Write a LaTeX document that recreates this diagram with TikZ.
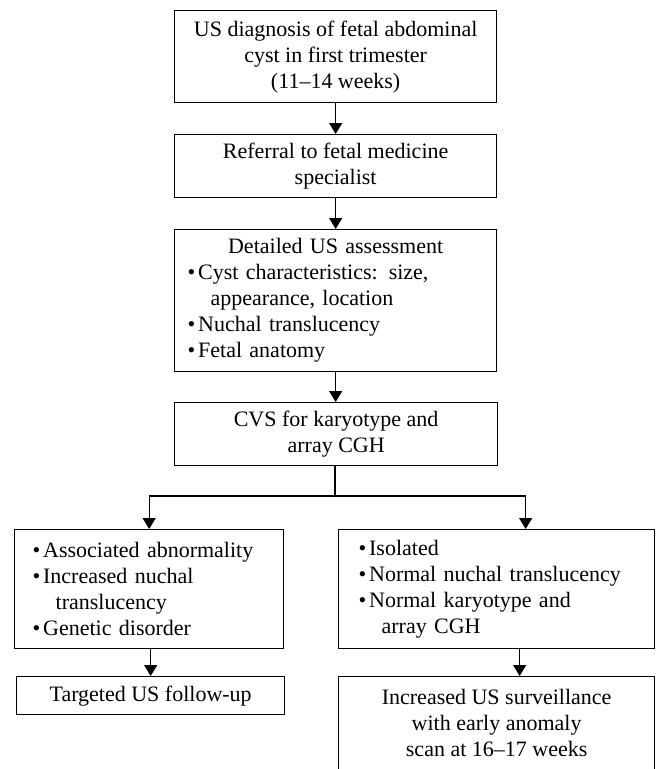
\documentclass[tikz,border=0pt]{standalone}
\usepackage{fontspec}
\setmainfont{Liberation Serif}
\usetikzlibrary{arrows.meta}
\newcommand{\bitem}{\makebox[10.5pt][l]{\textbullet}}
\newcommand{\bcont}{\hspace*{23pt}}
\begin{document}
\begin{tikzpicture}[x=1pt, y=-1pt,
    box/.style={draw, line width=1.3pt, inner sep=0pt, anchor=north west, align=center,
      font=\fontsize{22}{26}\selectfont},
    arr/.style={line width=1.3pt, -{Triangle[length=11pt, width=13pt]}}]
    \useasboundingbox (0,0) rectangle (656,769);
    \clip (0,0) rectangle (656,769);

    % Main column
    \node[box, minimum width=322pt, minimum height=92pt] (diag) at (174,10)
      {US diagnosis of fetal abdominal\\ cyst in first trimester\\ (11--14 weeks)};
    \node[box, minimum width=322pt, minimum height=63pt] (refer) at (174,134)
      {Referral to fetal medicine\\ specialist};
    \node[box, minimum width=322pt, minimum height=142pt, text width=296pt, align=left] (assess) at (174,229)
      {\makebox[296pt]{Detailed US assessment}\\
       \bitem Cyst characteristics: size,\\
       \bcont appearance, location\\
       \bitem Nuchal translucency\\
       \bitem Fetal anatomy};
    \node[box, minimum width=323pt, minimum height=63pt] (cvs) at (174,402)
      {CVS for karyotype and\\ array CGH};

    % Two outcomes
    \node[box, minimum width=269pt, minimum height=119pt, text width=233pt, align=left] (abnormal) at (14,529)
      {\bitem Associated abnormality\\
       \bitem Increased nuchal\\
       \bcont translucency\\
       \bitem Genetic disorder};
    \node[box, minimum width=316pt, minimum height=119pt, text width=276pt, align=left] (isolated) at (338,529)
      {\bitem Isolated\\
       \bitem Normal nuchal translucency\\
       \bitem Normal karyotype and\\
       \bcont array CGH};

    % Follow-up
    \node[box, minimum width=268pt, minimum height=38pt] (targeted) at (16,676)
      {Targeted US follow-up};
    \node[box, minimum width=316pt, inner ysep=13pt, text depth=20pt] (surveil) at (338,676)
      {Increased US surveillance\\ with early anomaly\\ scan at 16--17 weeks};

    % Arrows
    \draw[arr] (diag) -- (refer);
    \draw[arr] (refer) -- (assess);
    \draw[arr] (assess.south) -- (assess.south |- cvs.north);
    \coordinate (split) at (335,496);
    \draw[line width=1.3pt] (cvs.south -| split) -- (split);
    \draw[arr] (split) -| (abnormal.north);
    \draw[arr] (split) -| ([xshift=29pt]isolated.north);
    \draw[arr] (abnormal.south -| targeted.north) -- (targeted.north);
    \draw[arr] ([xshift=23pt]isolated.south) -- ([xshift=23pt]surveil.north);
\end{tikzpicture}
\end{document}
